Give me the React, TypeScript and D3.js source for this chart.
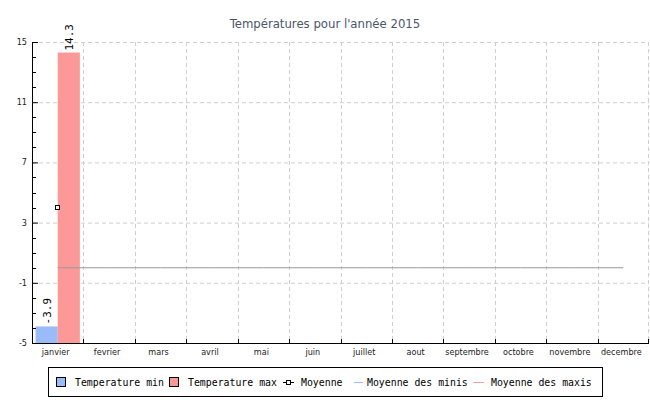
import React from "react";
import * as d3 from "d3";

const months = ["janvier","fevrier","mars","avril","mai","juin","juillet","aout","septembre","octobre","novembre","decembre"];
const tempMin: (number | null)[] = [-3.9, null, null, null, null, null, null, null, null, null, null, null];
const tempMax: (number | null)[] = [14.3, null, null, null, null, null, null, null, null, null, null, null];
const moyenne: (number | null)[] = [4.0, null, null, null, null, null, null, null, null, null, null, null];
const moyenneLine: number[] = [0, 0, 0, 0, 0, 0, 0, 0, 0, 0, 0, 0];
const yMajorTicks = [-5, -1, 3, 7, 11, 15];
const yMinorTicks = [-4, -3, -2, 0, 1, 2, 4, 5, 6, 8, 9, 10, 12, 13, 14];
const legendLabels = ["Temperature min", "Temperature max", "Moyenne", "Moyenne des minis", "Moyenne des maxis"];
const legendKinds = ["box", "box", "marker", "line", "line"];
const legendColors = ["#99bbf8", "#fd9898", "#000", "#99bbf8", "#f4a0a0"];

const W = 650, H = 400;
const L = 32, R = 649, T = 42, B = 343;

export default function App() {
  const x = d3.scaleBand<string>().domain(months).range([L, R]).padding(0);
  const sub = d3.scaleBand<string>().domain(["min", "max"]).range([0, x.bandwidth()]).paddingInner(0).paddingOuter(0.16);
  const y = d3.scaleLinear().domain([-5, 15]).range([B, T]);
  const cx = (m: string) => (x(m) as number) + x.bandwidth() / 2;
  const mono = "'DejaVu Sans Mono', monospace";
  const cond = "'DejaVu Sans Condensed', 'DejaVu Sans', sans-serif";
  const line = d3.line<number>().x((_, i) => cx(months[i])).y((d) => y(d));

  // legend layout
  const legX = 48, legY = 367, legW = 554, legH = 29;
  const symStarts = [56, 169, 283, 354, 473];
  const symEnds = [66, 179, 294, 363, 484];
  const textStarts = [75, 188, 301, 367, 491];
  const charW = 5.93;

  return (
    <svg width={W} height={H} style={{ position: "absolute", left: 0, top: 0, background: "#fff" }}>
      <rect x={0} y={0} width={W} height={H} fill="#fff" />
      <text x={325} y={28} textAnchor="middle" fontFamily={cond} fontSize={13} fill="#4b566b">
        Températures pour l'année 2015
      </text>
      {/* grid */}
      {yMajorTicks.filter((t) => t !== -5).map((t) => (
        <line key={"gy" + t} x1={L} x2={R} y1={y(t) + 0.5} y2={y(t) + 0.5} stroke="#cfcfcf" strokeDasharray="4,3" />
      ))}
      {months.slice(1).map((m) => (
        <line key={"gx" + m} x1={Math.round(x(m) as number) + 0.5} x2={Math.round(x(m) as number) + 0.5} y1={T} y2={B} stroke="#cfcfcf" strokeDasharray="4,3" />
      ))}
      <line x1={R - 0.5} x2={R - 0.5} y1={T} y2={B} stroke="#cfcfcf" strokeDasharray="4,3" />
      {/* bars */}
      {months.map((m, i) =>
        tempMin[i] == null ? null : (
          <rect key={"bmin" + m} x={(x(m) as number) + (sub("min") as number)} width={sub.bandwidth()} y={y(tempMin[i] as number)} height={B - y(tempMin[i] as number)} fill="#99bbf8" />
        )
      )}
      {months.map((m, i) =>
        tempMax[i] == null ? null : (
          <rect key={"bmax" + m} x={(x(m) as number) + (sub("max") as number)} width={sub.bandwidth()} y={y(tempMax[i] as number)} height={B - y(tempMax[i] as number)} fill="#fd9898" />
        )
      )}
      {months.map((m, i) =>
        tempMin[i] == null ? null : (
          <text key={"lmin" + m} transform={`translate(${(x(m) as number) + (sub("min") as number) + sub.bandwidth() / 2 + 4},${y(tempMin[i] as number) - 2}) rotate(-90)`} fontFamily={mono} fontSize={11} fill="#000">
            {(tempMin[i] as number).toFixed(1)}
          </text>
        )
      )}
      {months.map((m, i) =>
        tempMax[i] == null ? null : (
          <text key={"lmax" + m} transform={`translate(${(x(m) as number) + (sub("max") as number) + sub.bandwidth() / 2 + 4},${y(tempMax[i] as number) - 2}) rotate(-90)`} fontFamily={mono} fontSize={11} fill="#000">
            {(tempMax[i] as number).toFixed(1)}
          </text>
        )
      )}
      {/* average line */}
      <path d={line(moyenneLine) || ""} fill="none" stroke="#999" strokeWidth={1} />
      {months.map((m, i) =>
        moyenne[i] == null ? null : (
          <rect key={"mk" + m} x={Math.round(cx(m)) - 2.5} y={Math.round(y(moyenne[i] as number)) - 2.5} width={4} height={4} fill="#fff" stroke="#000" strokeWidth={1} />
        )
      )}
      {/* axes */}
      <line x1={L + 0.5} x2={L + 0.5} y1={T} y2={B + 1} stroke="#000" />
      <line x1={L} x2={R} y1={B + 0.5} y2={B + 0.5} stroke="#000" />
      {yMajorTicks.map((t) => (
        <g key={"yt" + t}>
          <line x1={L} x2={L + 6} y1={y(t) + 0.5} y2={y(t) + 0.5} stroke="#000" />
          <text x={27} y={y(t) + 3} textAnchor="end" fontFamily={cond} fontSize={9} fill="#222">{t}</text>
        </g>
      ))}
      {yMinorTicks.map((t) => (
        <line key={"ym" + t} x1={L} x2={L + 4} y1={Math.round(y(t)) + 0.5} y2={Math.round(y(t)) + 0.5} stroke="#000" />
      ))}
      {months.slice(1).map((m) => (
        <line key={"xt" + m} x1={Math.round(x(m) as number) + 0.5} x2={Math.round(x(m) as number) + 0.5} y1={B - 4} y2={B} stroke="#000" />
      ))}
      <line x1={R - 0.5} x2={R - 0.5} y1={B - 4} y2={B} stroke="#000" />
      {months.map((m) => (
        <text key={"xl" + m} x={cx(m) - 2} y={355} textAnchor="middle" fontFamily={cond} fontSize={9} fill="#222">{m}</text>
      ))}
      {/* legend */}
      <rect x={legX + 0.5} y={legY + 0.5} width={legW} height={legH} fill="#fff" stroke="#000" />
      {legendLabels.map((label, i) => {
        const kind = legendKinds[i];
        const color = legendColors[i];
        const sx = symStarts[i];
        const ex = symEnds[i];
        const tx = textStarts[i];
        return (
          <g key={"lg" + label}>
            {kind === "box" && <rect x={sx + 0.5} y={377.5} width={ex - sx - 1} height={9} fill={color} stroke="#000" />}
            {kind === "marker" && (
              <g>
                <line x1={sx} x2={ex} y1={382.5} y2={382.5} stroke="#000" />
                <rect x={(sx + ex) / 2 - 2} y={380.5} width={4} height={4} fill="#fff" stroke="#000" />
              </g>
            )}
            {kind === "line" && <line x1={sx} x2={ex} y1={382.5} y2={382.5} stroke={color} />}
            <text x={tx} y={386} fontFamily={mono} fontSize={10} textLength={label.length * charW} lengthAdjust="spacingAndGlyphs" fill="#000">{label}</text>
          </g>
        );
      })}
    </svg>
  );
}
